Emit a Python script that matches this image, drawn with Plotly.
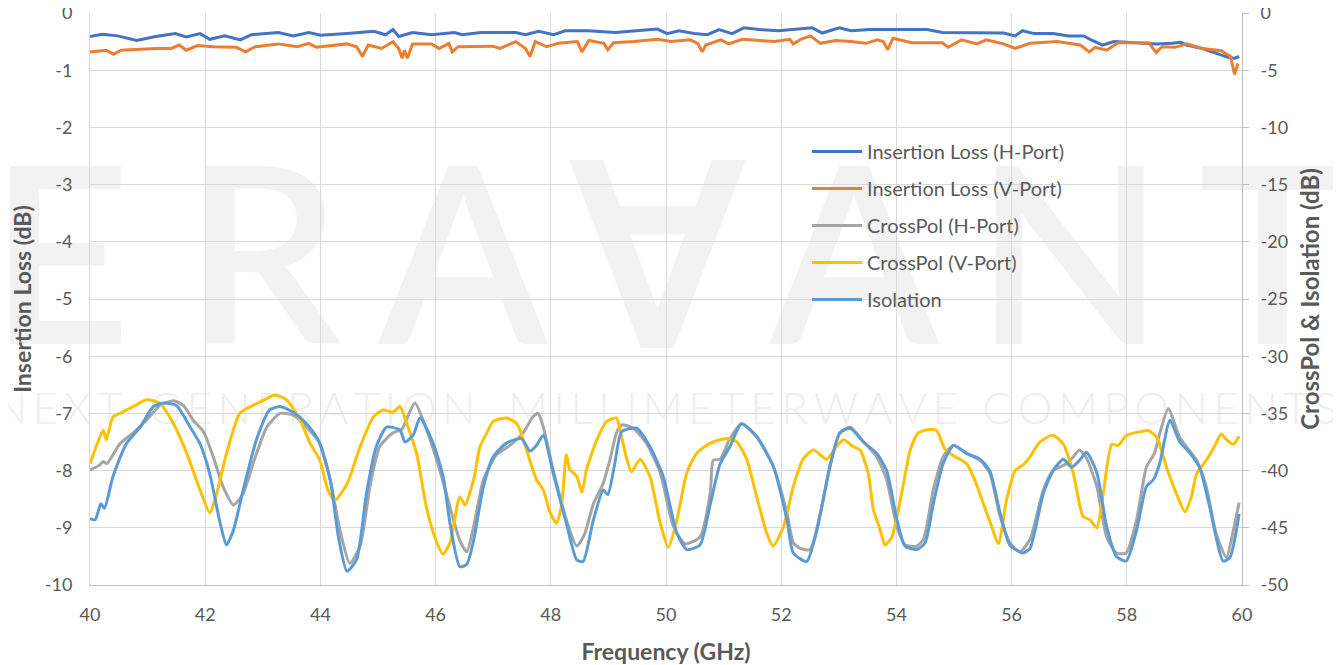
import plotly.graph_objects as go

# ---------------- data ----------------
il_h_freq = [40.0, 40.21, 40.48, 40.81, 41.14, 41.48, 41.67, 41.91, 42.08, 42.34, 42.61, 42.80, 43.27, 43.53,
             43.80, 44.0, 44.46, 44.93, 45.13, 45.26, 45.36, 45.60, 45.93, 46.33, 46.46, 46.79, 47.39, 47.56,
             47.79, 48.05, 48.25, 48.65, 49.12, 49.45, 49.85, 50.02, 50.22, 50.49, 50.72, 50.92, 51.15, 51.35,
             51.62, 51.95, 52.21, 52.54, 52.71, 53.01, 53.21, 53.54, 54.2, 54.53, 54.8, 55.2, 55.53, 55.86,
             56.06, 56.19, 56.39, 56.72, 56.99, 57.25, 57.38, 57.58, 57.78, 58.12, 58.51, 58.78, 58.94, 59.04,
             59.31, 59.57, 59.77, 59.87, 59.95]
il_h = [-0.41, -0.37, -0.40, -0.48, -0.41, -0.36, -0.42, -0.36, -0.46, -0.40, -0.47, -0.38, -0.34, -0.40,
        -0.34, -0.39, -0.36, -0.32, -0.38, -0.29, -0.41, -0.34, -0.38, -0.34, -0.38, -0.34, -0.34, -0.38,
        -0.32, -0.38, -0.31, -0.31, -0.34, -0.31, -0.28, -0.36, -0.31, -0.36, -0.38, -0.29, -0.36, -0.26,
        -0.29, -0.31, -0.29, -0.26, -0.35, -0.26, -0.31, -0.29, -0.29, -0.29, -0.34, -0.34, -0.34, -0.35,
        -0.40, -0.31, -0.36, -0.36, -0.40, -0.40, -0.47, -0.56, -0.50, -0.52, -0.54, -0.53, -0.51, -0.56,
        -0.62, -0.71, -0.78, -0.79, -0.76]

il_v_freq = [40.0, 40.28, 40.41, 40.54, 41.14, 41.41, 41.55, 41.67, 41.87, 42.14, 42.54, 42.70, 42.87, 43.27,
             43.60, 43.80, 43.93, 44.46, 44.63, 44.73, 44.83, 45.06, 45.26, 45.36, 45.42, 45.46, 45.51, 45.60,
             45.93, 46.06, 46.23, 46.29, 46.39, 46.99, 47.12, 47.39, 47.56, 47.64, 47.73, 47.93, 48.13, 48.46,
             48.54, 48.66, 48.92, 48.99, 49.09, 49.45, 49.85, 50.09, 50.42, 50.55, 50.63, 50.69, 50.95, 51.09,
             51.32, 51.55, 51.88, 52.15, 52.21, 52.34, 52.51, 52.68, 52.94, 53.21, 53.47, 53.67, 53.77, 53.85,
             53.94, 54.27, 54.8, 54.9, 55.13, 55.4, 55.56, 55.86, 56.06, 56.32, 56.79, 57.19, 57.35, 57.45,
             57.65, 57.85, 58.38, 58.51, 58.61, 58.84, 59.04, 59.31, 59.64, 59.80, 59.87, 59.93]
il_v = [-0.68, -0.65, -0.72, -0.65, -0.62, -0.62, -0.56, -0.65, -0.57, -0.59, -0.60, -0.68, -0.59, -0.54,
        -0.59, -0.53, -0.60, -0.54, -0.59, -0.76, -0.56, -0.62, -0.50, -0.62, -0.79, -0.65, -0.79, -0.54,
        -0.54, -0.62, -0.53, -0.68, -0.59, -0.58, -0.62, -0.50, -0.62, -0.76, -0.50, -0.59, -0.53, -0.50,
        -0.68, -0.48, -0.53, -0.64, -0.52, -0.50, -0.46, -0.50, -0.47, -0.53, -0.68, -0.56, -0.47, -0.54,
        -0.46, -0.48, -0.50, -0.46, -0.54, -0.46, -0.40, -0.53, -0.48, -0.50, -0.53, -0.47, -0.50, -0.64,
        -0.44, -0.52, -0.52, -0.60, -0.47, -0.54, -0.47, -0.54, -0.62, -0.53, -0.50, -0.56, -0.68, -0.60,
        -0.65, -0.52, -0.52, -0.69, -0.59, -0.60, -0.54, -0.62, -0.66, -0.76, -1.07, -0.88]

xp_h_freq = [40.0, 40.17, 40.23, 40.29, 40.52, 40.75, 40.98, 41.21, 41.45, 41.62, 41.79, 41.97, 42.14, 42.31,
             42.49, 42.66, 42.83, 43.07, 43.3, 43.53, 43.76, 43.99, 44.17, 44.34, 44.51, 44.69, 44.86, 45.03,
             45.26, 45.41, 45.64, 45.84, 46.07, 46.25, 46.42, 46.54, 46.66, 46.83, 47.06, 47.29, 47.52, 47.69,
             47.78, 47.87, 48.04, 48.27, 48.45, 48.59, 48.74, 48.91, 49.03, 49.14, 49.23, 49.43, 49.66, 49.9,
             50.13, 50.33, 50.59, 50.77, 50.82, 50.94, 51.11, 51.31, 51.57, 51.86, 52.1, 52.21, 52.33, 52.5,
             52.68, 52.85, 53.02, 53.2, 53.43, 53.66, 53.83, 54.01, 54.15, 54.35, 54.47, 54.64, 54.81, 54.99,
             55.22, 55.45, 55.62, 55.8, 55.97, 56.14, 56.32, 56.55, 56.72, 56.95, 57.07, 57.18, 57.3, 57.48,
             57.65, 57.82, 57.99, 58.17, 58.34, 58.48, 58.57, 58.72, 58.92, 59.21, 59.38, 59.55, 59.73, 59.85,
             59.95]
xp_h = [-39.95, -39.5, -39.2, -39.4, -37.65, -36.7, -35.6, -34.3, -33.9, -34.3, -35.6, -36.6, -38.8, -41.4,
        -43.0, -42.0, -39.4, -36.2, -35.0, -35.15, -36.2, -37.6, -40.8, -45.2, -48.1, -46.6, -41.4, -37.9,
        -36.7, -36.4, -34.1, -36.4, -39.9, -43.2, -46.1, -47.1, -44.9, -40.8, -38.6, -37.8, -36.7, -35.3,
        -35.0, -36.2, -39.9, -44.3, -46.6, -45.5, -42.9, -41.1, -39.0, -36.7, -36.0, -36.3, -37.6, -40.2,
        -44.9, -46.4, -45.8, -41.9, -39.1, -39.0, -37.2, -35.9, -37.0, -39.6, -43.7, -46.3, -46.8, -46.9,
        -43.7, -39.6, -36.7, -36.2, -37.5, -38.8, -40.8, -44.9, -46.5, -46.6, -46.0, -41.7, -38.8, -37.8,
        -38.5, -39.1, -40.2, -44.0, -46.3, -47.1, -46.0, -41.7, -40.0, -39.4, -38.8, -38.2, -38.9, -41.4,
        -45.8, -47.2, -47.2, -44.3, -39.7, -38.5, -36.8, -34.6, -37.1, -39.1, -41.4, -45.5, -47.6, -45.2,
        -42.8]

xp_v_freq = [40.0, 40.23, 40.28, 40.40, 40.52, 40.75, 40.98, 41.21, 41.45, 41.68, 41.91, 42.08, 42.2, 42.37,
             42.6, 42.83, 43.07, 43.21, 43.41, 43.65, 43.82, 43.99, 44.13, 44.25, 44.46, 44.69, 44.92, 45.09,
             45.26, 45.38, 45.5, 45.67, 45.84, 46.0, 46.13, 46.25, 46.42, 46.51, 46.66, 46.77, 46.88, 47.0,
             47.23, 47.41, 47.58, 47.75, 47.87, 47.99, 48.1, 48.19, 48.27, 48.33, 48.45, 48.54, 48.62, 48.8,
             48.97, 49.14, 49.2, 49.32, 49.4, 49.55, 49.72, 49.9, 50.04, 50.19, 50.36, 50.53, 50.77, 51.05,
             51.23, 51.4, 51.57, 51.75, 51.86, 52.04, 52.21, 52.38, 52.56, 52.79, 52.96, 53.08, 53.25, 53.37,
             53.51, 53.6, 53.72, 53.8, 53.92, 54.09, 54.24, 54.38, 54.58, 54.70, 54.84, 54.99, 55.22, 55.39,
             55.51, 55.62, 55.77, 55.91, 56.06, 56.2, 56.32, 56.49, 56.72, 56.9, 57.07, 57.24, 57.36, 57.48,
             57.59, 57.74, 57.85, 58.0, 58.23, 58.37, 58.52, 58.69, 58.86, 59.01, 59.12, 59.21, 59.38, 59.5,
             59.64, 59.73, 59.85, 59.95]
xp_v = [-39.4, -36.45, -37.3, -35.3, -35.0, -34.4, -33.8, -34.1, -35.9, -38.5, -41.7, -43.7, -42.0, -38.5,
        -35.0, -34.3, -33.7, -33.4, -33.8, -35.6, -37.6, -39.1, -41.7, -42.6, -41.2, -37.9, -35.3, -34.7,
        -34.9, -34.4, -35.9, -38.5, -43.2, -46.0, -47.3, -46.3, -42.3, -43.0, -40.8, -37.9, -36.8, -35.7,
        -35.4, -35.9, -38.2, -40.8, -41.7, -43.7, -44.6, -42.9, -38.6, -39.9, -40.5, -41.9, -39.9, -37.3,
        -35.7, -35.4, -36.4, -39.0, -40.1, -39.0, -40.5, -44.6, -46.7, -44.3, -40.2, -38.5, -37.6, -37.2,
        -37.5, -39.0, -42.2, -45.5, -46.6, -44.9, -41.4, -39.0, -38.2, -39.0, -37.9, -37.3, -37.9, -38.2,
        -40.2, -43.4, -45.2, -46.5, -45.8, -42.0, -38.2, -36.7, -36.4, -36.5, -38.1, -38.7, -39.4, -41.2,
        -42.9, -44.4, -46.4, -42.6, -40.0, -39.5, -38.8, -37.5, -36.9, -37.7, -40.2, -44.0, -44.3, -45.0,
        -42.0, -37.7, -37.8, -36.9, -36.6, -36.5, -37.1, -39.7, -42.0, -43.6, -42.3, -40.3, -39.1, -38.1,
        -36.8, -37.3, -37.7, -37.0]

iso_freq = [40.0, 40.09, 40.19, 40.25, 40.4, 40.63, 40.87, 41.1, 41.27, 41.5, 41.74, 41.91, 42.08, 42.26,
            42.37, 42.49, 42.66, 42.89, 43.12, 43.3, 43.53, 43.76, 43.96, 44.17, 44.31, 44.46, 44.63, 44.8,
            44.97, 45.15, 45.38, 45.47, 45.61, 45.73, 45.96, 46.13, 46.25, 46.42, 46.54, 46.66, 46.83, 47.0,
            47.23, 47.49, 47.64, 47.75, 47.87, 48.04, 48.27, 48.45, 48.56, 48.74, 48.91, 48.99, 49.11, 49.23,
            49.49, 49.72, 49.95, 50.19, 50.36, 50.59, 50.77, 50.94, 51.11, 51.31, 51.57, 51.86, 52.1, 52.21,
            52.44, 52.62, 52.85, 53.02, 53.2, 53.43, 53.66, 53.83, 54.01, 54.15, 54.35, 54.5, 54.64, 54.81,
            54.99, 55.22, 55.45, 55.62, 55.8, 55.97, 56.2, 56.32, 56.55, 56.72, 56.9, 57.04, 57.18, 57.3,
            57.48, 57.65, 57.82, 57.99, 58.17, 58.34, 58.46, 58.57, 58.75, 58.92, 59.1, 59.27, 59.44, 59.67,
            59.79, 59.95]
iso = [-44.2, -44.3, -42.9, -43.3, -40.5, -37.65, -36.2, -34.4, -34.1, -34.3, -36.2, -37.65, -40.3, -44.6,
       -46.5, -45.2, -41.7, -37.3, -34.7, -34.4, -34.9, -35.9, -37.3, -40.8, -45.7, -48.8, -47.75, -42.0,
       -37.9, -36.2, -36.45, -37.5, -36.9, -35.4, -37.65, -40.5, -44.6, -48.4, -48.2, -46.1, -41.4, -38.8,
       -37.6, -37.2, -38.3, -37.8, -36.9, -40.2, -44.6, -47.8, -47.95, -44.3, -41.7, -42.1, -39.4, -36.6,
       -36.3, -37.9, -40.5, -45.5, -46.9, -46.5, -42.9, -39.4, -37.9, -35.9, -37.0, -39.6, -44.3, -47.2,
       -47.95, -45.2, -39.5, -36.7, -36.3, -37.5, -38.5, -40.0, -44.3, -46.6, -46.9, -46.3, -42.9, -39.4,
       -37.8, -38.5, -39.0, -40.0, -43.7, -46.5, -47.2, -46.8, -42.0, -40.0, -39.0, -39.7, -39.1, -38.4,
       -40.2, -44.9, -47.5, -47.9, -45.2, -41.4, -40.8, -39.4, -35.6, -37.5, -38.5, -39.8, -43.2, -47.9,
       -47.6, -43.8]

series_names = ["Insertion Loss (H-Port)", "Insertion Loss (V-Port)", "CrossPol (H-Port)",
                "CrossPol (V-Port)", "Isolation"]
series_colors = ["#4472C4", "#ED7D31", "#A5A5A5", "#FFC000", "#5B9BD5"]

x_ticks = [40, 42, 44, 46, 48, 50, 52, 54, 56, 58, 60]
y_left_ticks = [0, -1, -2, -3, -4, -5, -6, -7, -8, -9, -10]
y_left_text = ["0", "-1", "-2", "-3", "-4", "-5", "-6", "-7", "-8", "-9", "-10"]
y_right_ticks = [0, -5, -10, -15, -20, -25, -30, -35, -40, -45, -50]
y_right_text = ["0", "-5", "-10", "-15", "-20", "-25", "-30", "-35", "-40", "-45", "-50"]
watermark_letters = ["E", "R", "A", "\u2200", "A", "N", "T"]
watermark_words = ["NEXT", "GENERATION", "MILLIMETERWAVE", "COMPONENTS"]

# ---------------- figure geometry ----------------
# the page body has an 8px default margin, so the figure is sized to fit the window
OFF = 8
WIN_W, WIN_H = 1341, 665
W, H = WIN_W - OFF, WIN_H - OFF
PLOT_L, PLOT_R, PLOT_T, PLOT_B = 90, 1242, 13, 585     # window pixels
ML, MR, MT, MB = PLOT_L - OFF, WIN_W - PLOT_R, PLOT_T - OFF, WIN_H - PLOT_B
PW, PH = PLOT_R - PLOT_L, PLOT_B - PLOT_T


def px2paper_x(px):
    return (px - PLOT_L) / PW


def px2paper_y(py):
    return (PLOT_B - py) / PH


fig = go.Figure()
all_x = [il_h_freq, il_v_freq, xp_h_freq, xp_v_freq, iso_freq]
all_y = [il_h, il_v, xp_h, xp_v, iso]
for i, (xs, ys) in enumerate(zip(all_x, all_y)):
    line = dict(color=series_colors[i], width=3)
    if i >= 2:
        line.update(shape="spline", smoothing=0.6)
    fig.add_trace(go.Scatter(
        x=xs, y=ys, name=series_names[i], mode="lines", line=line,
        yaxis="y" if i < 2 else "y2", legendgroup=f"g{i}",
    ))

# watermark (below gridlines)
shapes = []
letter_centers = [60, 263, 463, 657, 854, 1070, 1272]
for ch, cx in zip(watermark_letters, letter_centers):
    shapes.append(dict(
        type="rect", xref="paper", yref="paper",
        x0=px2paper_x(cx - 5), x1=px2paper_x(cx + 5),
        y0=px2paper_y(250), y1=px2paper_y(240),
        line=dict(width=0), fillcolor="rgba(0,0,0,0)", layer="below",
        label=dict(text=ch, textposition="middle center",
                   font=dict(family="Lato", size=247, color="#f2f2f2", weight=600)),
    ))
word_centers = [58, 312, 733, 1160]
for wd, cx in zip(watermark_words, word_centers):
    shapes.append(dict(
        type="rect", xref="paper", yref="paper",
        x0=px2paper_x(cx - 5), x1=px2paper_x(cx + 5),
        y0=px2paper_y(409), y1=px2paper_y(403),
        line=dict(width=0), fillcolor="rgba(0,0,0,0)", layer="below",
        label=dict(text="\u2009".join(wd), textposition="middle center",
                   font=dict(family="Lato", size=44, color="#eeeeee", weight=300)),
    ))

tick_font = dict(family="Lato", size=18, color="#595959")
title_font = dict(family="Lato", size=23, color="#595959", weight="bold")

fig.update_layout(
    width=W, height=H,
    margin=dict(l=ML, r=MR, t=MT, b=MB, autoexpand=False),
    paper_bgcolor="white", plot_bgcolor="rgba(0,0,0,0)",
    shapes=shapes,
    showlegend=True,
    legend=dict(x=px2paper_x(807), y=px2paper_y(132), xanchor="left", yanchor="top",
                bgcolor="rgba(0,0,0,0)", font=dict(family="Lato", size=20, color="#595959"),
                tracegroupgap=8, itemwidth=50, traceorder="grouped"),
    xaxis=dict(range=[40, 60], tickvals=x_ticks, showgrid=True, gridcolor="#d9d9d9", gridwidth=1,
               showline=True, linecolor="#bfbfbf", linewidth=1, ticks="", zeroline=False,
               tickfont=tick_font, ticklabelstandoff=13, automargin=False, ticklabeloverflow="allow",
               title=dict(text="Frequency (GHz)", font=title_font, standoff=21)),
    yaxis=dict(range=[-10, 0], tickvals=y_left_ticks, ticktext=y_left_text, showgrid=True,
               gridcolor="#d9d9d9", gridwidth=1,
               showline=True, linecolor="#d9d9d9", linewidth=1, ticks="", zeroline=False,
               tickfont=tick_font, ticklabelstandoff=13, automargin=False, ticklabeloverflow="allow",
               title=dict(text="Insertion Loss (dB)", font=title_font, standoff=16)),
    yaxis2=dict(range=[-50, 0], tickvals=y_right_ticks, ticktext=y_right_text, overlaying="y",
                side="right", showgrid=False, zeroline=False,
                showline=True, linecolor="#bfbfbf", linewidth=1, ticks="outside", ticklen=6,
                tickcolor="#bfbfbf", tickfont=tick_font, ticklabelstandoff=8, automargin=False,
                ticklabeloverflow="allow",
                title=dict(text="CrossPol & Isolation (dB)", font=dict(family="Lato", size=24,
                                                                      color="#595959", weight="bold"),
                           standoff=15)),
)

fig.write_html("out.html")
